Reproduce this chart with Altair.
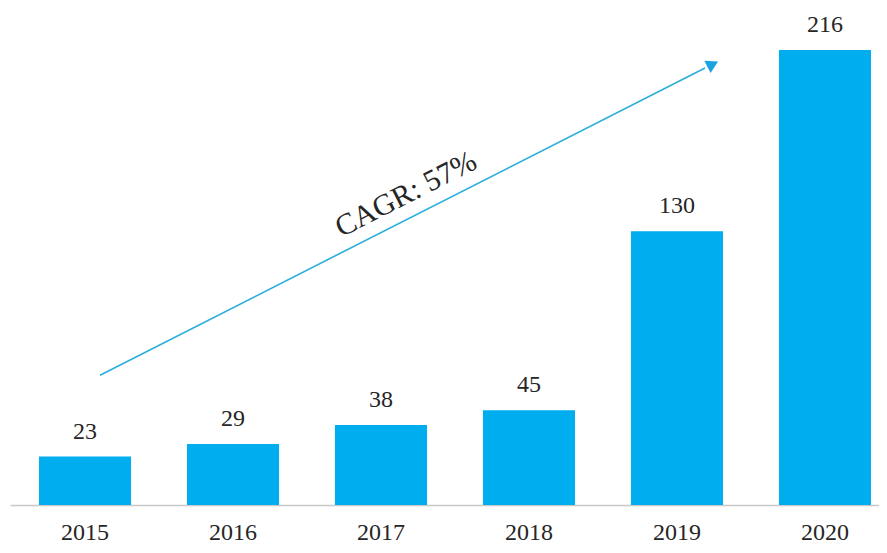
import altair as alt
import pandas as pd

years = ["2015", "2016", "2017", "2018", "2019", "2020"]
values = [23, 29, 38, 45, 130, 216]

cagr_text = "CAGR: 57%"
# arrow annotation anchors (category, value)
arrow_from = ("2015", 61.6)
arrow_to = ("2019", 207.5)
text_at = ("2017", 147.5)

FONT = "Liberation Serif"
BAR = "#00ADEF"
TXT = "#262626"

df = pd.DataFrame({"year": years, "value": values})
arrow_df = pd.DataFrame({
    "x1": [arrow_from[0]], "y1": [arrow_from[1]],
    "x2": [arrow_to[0]], "y2": [arrow_to[1]],
})
head_df = pd.DataFrame({"x": [arrow_to[0]], "y": [arrow_to[1] + 1.4]})
text_df = pd.DataFrame({"x": [text_at[0]], "y": [text_at[1]], "t": [cagr_text]})

xscale = alt.Scale(domain=years, paddingInner=0.378, paddingOuter=0.125, align=0.784)
yscale = alt.Scale(domain=[0, 236])

xaxis = alt.Axis(labelAngle=0, labelFont=FONT, labelFontSize=24,
                 labelColor=TXT, ticks=False, tickSize=0,
                 labelBaseline="alphabetic", labelPadding=34,
                 domainColor="#c8c8c8", domainWidth=1.5, grid=False)


def xe(field):
    return alt.X(field, scale=xscale, sort=years, title=None, axis=xaxis)


yenc = alt.Y("value:Q", scale=yscale, axis=None)

bars = alt.Chart(df).mark_bar(color=BAR).encode(x=xe("year:N"), y=yenc)
labels = alt.Chart(df).mark_text(font=FONT, fontSize=24, color=TXT,
                                 baseline="alphabetic", dy=-18).encode(
    x=xe("year:N"), y=yenc, text="value:Q")

arrow = alt.Chart(arrow_df).mark_rule(color="#2aaedb", strokeWidth=1.6,
                                      xOffset=15, x2Offset=28).encode(
    x=xe("x1:N"),
    x2="x2:N",
    y=alt.Y("y1:Q", scale=yscale, axis=None),
    y2="y2:Q")

head = alt.Chart(head_df).mark_point(shape="triangle", filled=True, color="#1aa3e0",
                                     size=190, angle=63, opacity=1, xOffset=34).encode(
    x=xe("x:N"),
    y=alt.Y("y:Q", scale=yscale, axis=None))

cagr = alt.Chart(text_df).mark_text(font=FONT, fontSize=30, color=TXT, angle=333,
                                    align="center", baseline="middle", xOffset=25).encode(
    x=xe("x:N"),
    y=alt.Y("y:Q", scale=yscale, axis=None),
    text="t:N")

chart = alt.layer(bars, labels, arrow, head, cagr).properties(
    width=869, height=497,
    background="white",
    autosize=alt.AutoSizeParams(type="none"),
    padding={"left": 2, "top": 0, "right": 0, "bottom": 40},
).configure_view(strokeWidth=0, stroke="transparent")

chart.save("out.html", embed_options={"renderer": "svg", "actions": False})
